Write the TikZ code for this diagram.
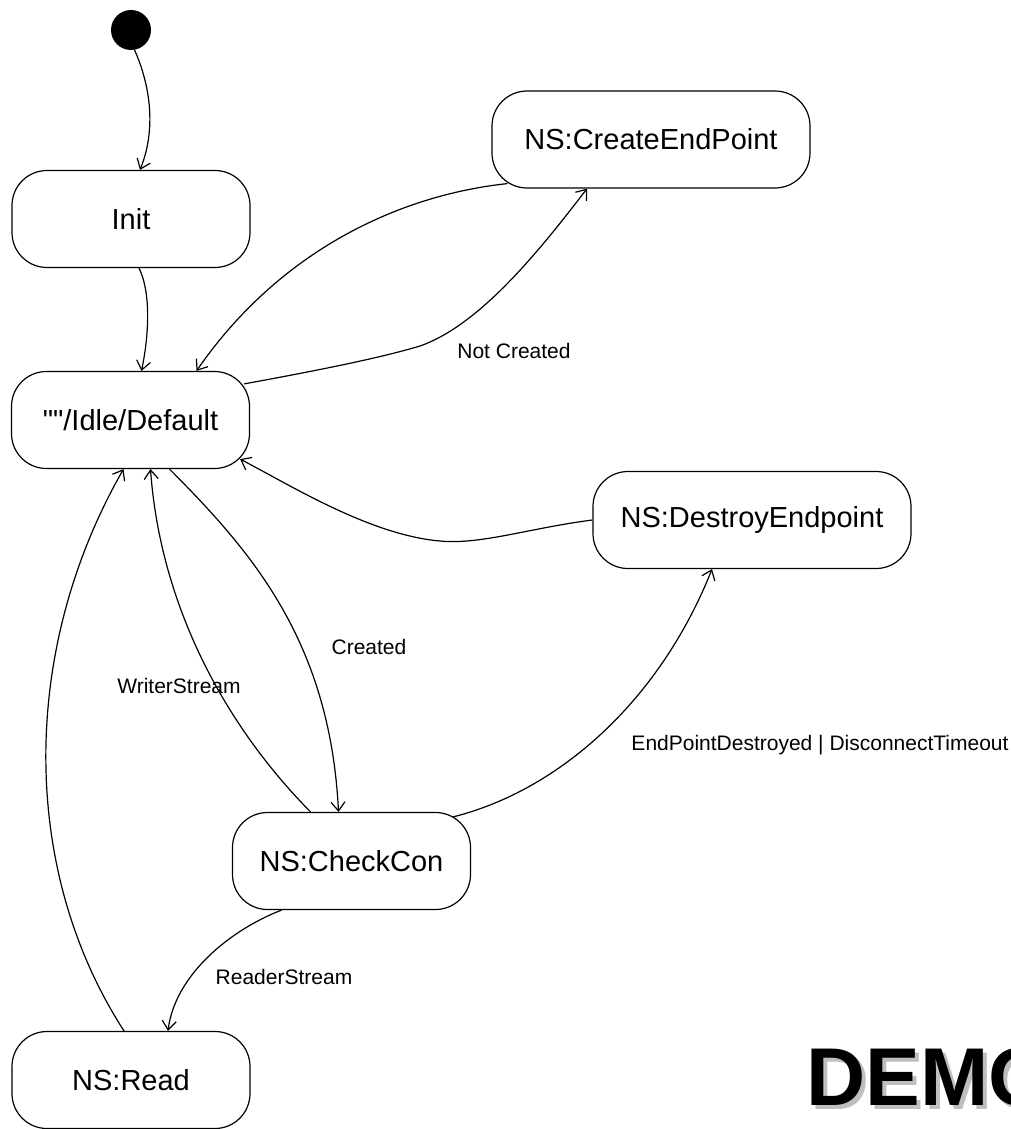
\documentclass[tikz,border=0pt]{standalone}
\usepackage{fontspec}
\setmainfont{Liberation Sans}[Ligatures=TeXOff]
\usetikzlibrary{arrows.meta}
\begin{document}
\begin{tikzpicture}[x=1pt,y=-1pt,
  state/.style={draw, line width=1.2pt, rounded corners=35pt, minimum width=238pt,
    minimum height=97pt, inner sep=0pt, font=\fontsize{29}{34}\selectfont},
  wide/.style={minimum width=318pt},
  trans/.style={line width=1.2pt, -{Straight Barb[length=9pt,width=14pt]}},
  lbl/.style={font=\fontsize{21}{25}\selectfont, inner sep=0pt},
  demo/.style={anchor=base west, inner sep=0pt, font=\fontsize{82}{90}\selectfont\bfseries}
]
\useasboundingbox (0,0) rectangle (1011,1129);
\clip (0,0) rectangle (1011,1129);

% states
\node[circle, fill=black, minimum size=40pt, inner sep=0pt] (start) at (131,30) {};
\node[state] (init) at (131,219) {Init};
\node[state] (idle) at (130.5,420) {""/Idle/Default};
\node[state, wide] (create) at (651,139.5) {NS:CreateEndPoint};
\node[state, wide] (destroy) at (752,520) {NS:DestroyEndpoint};
\node[state] (check) at (351.5,861) {NS:CheckCon};
\node[state] (read) at (131,1080) {NS:Read};

% transitions
\draw[trans] (start.-80) .. controls (148,80) and (158,125) .. ([xshift=9pt]init.north);
\draw[trans] ([xshift=8pt]init.south) .. controls (150,290) and (150,330) .. ([xshift=11pt]idle.north);
\draw[trans] ([xshift=16pt,yshift=5pt]create.south west) .. controls (400,195) and (280,250) .. ([xshift=66pt]idle.north);
\draw[trans] ([xshift=-6pt,yshift=-13pt]idle.north east) .. controls (320,370) and (380,358) .. (420,346)
  .. controls (480,325) and (540,250) .. ([xshift=-64pt]create.south);
\draw[trans] (destroy.west) .. controls (530,528) and (480,545) .. (440,541)
  .. controls (370,535) and (290,485) .. ([xshift=-10pt,yshift=10pt]idle.south east);
\draw[trans] ([xshift=39pt]idle.south) .. controls (250,550) and (330,640) .. ([xshift=-13pt]check.north);
\draw[trans] ([xshift=-41pt]check.north) .. controls (220,720) and (160,600) .. ([xshift=20pt]idle.south);
\draw[trans] ([xshift=-18pt,yshift=-5pt]check.north east) .. controls (560,790) and (660,700) .. ([xshift=-40pt]destroy.south);
\draw[trans] ([xshift=-70pt]check.south) .. controls (230,930) and (175,975) .. ([xshift=37pt]read.north);
\draw[trans] ([xshift=-7pt]read.north) .. controls (20,870) and (20,650) .. ([xshift=-7pt]idle.south);

% transition labels
\node[lbl] (lnc) at (514,351) {Not Created};
\node[lbl] (lc) at (369,647) {Created};
\node[lbl] (lw) at (179,686) {WriterStream};
\node[lbl] (le) at (820,745) {EndPointDestroyed | DisconnectTimeout};
\node[lbl] (lr) at (284,977) {ReaderStream};

% watermark
\node[demo, text=black!25] (demoshadow) at (810,1109) {DEMO};
\node[demo, text=black] (demotext) at (806,1105) {DEMO};
\end{tikzpicture}
\end{document}
